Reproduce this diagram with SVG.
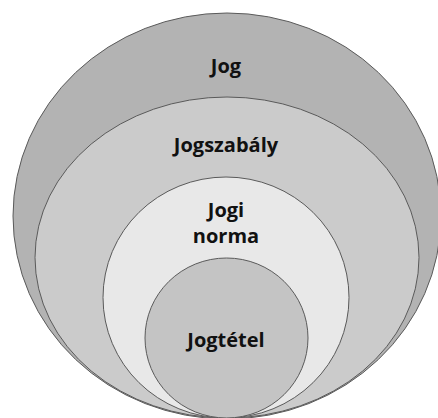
<svg xmlns="http://www.w3.org/2000/svg" width="438" height="418" viewBox="0 0 438 418">
<style>
.c{stroke:#5a5a5a;stroke-width:1}
.t{font-family:"Open Sans","Liberation Sans",sans-serif;font-weight:bold;font-size:20px;fill:#111;text-anchor:middle}
</style>
<rect width="438" height="418" fill="#ffffff"/>
<g id="jog">
<ellipse class="c" cx="227" cy="216" rx="214" ry="203" fill="#b3b3b3"/>
<text class="t" x="226" y="73">Jog</text>
</g>
<g id="jogszabaly">
<ellipse class="c" cx="227" cy="257.5" rx="192" ry="160.5" fill="#cbcbcb"/>
<text class="t" x="226" y="152">Jogszabály</text>
</g>
<g id="jogi-norma">
<ellipse class="c" cx="226" cy="297.5" rx="123" ry="120.5" fill="#e8e8e8"/>
<text class="t" x="226" y="217"><tspan x="226">Jogi</tspan><tspan x="226" dy="26">norma</tspan></text>
</g>
<g id="jogtetel">
<ellipse class="c" cx="226.5" cy="338" rx="81.5" ry="80" fill="#c4c4c4"/>
<text class="t" x="226" y="347">Jogtétel</text>
</g>
<g id="connectors"/>
</svg>
